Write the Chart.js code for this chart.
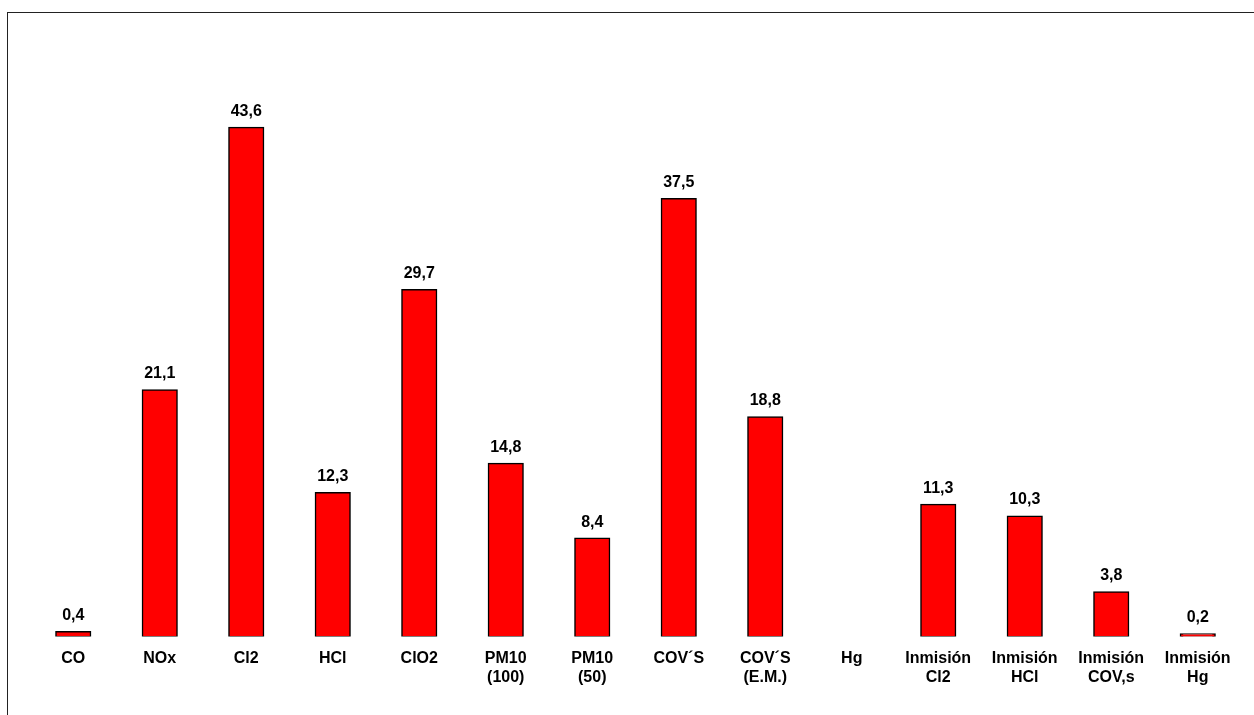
<!DOCTYPE html>
<html>
<head>
<meta charset="utf-8">
<script src="https://cdn.jsdelivr.net/npm/chart.js@4/dist/chart.umd.min.js"></script>
<style>
  html, body { margin: 0; padding: 0; background: #fff; }
  #wrap { position: relative; width: 1254px; height: 715px; }
</style>
</head>
<body>
<div id="wrap"><canvas id="emisiones"></canvas></div>
<script>
const categorias = [
  ["CO"], ["NOx"], ["Cl2"], ["HCl"], ["ClO2"], ["PM10", "(100)"], ["PM10", "(50)"],
  ["COV´S"], ["COV´S", "(E.M.)"], ["Hg"], ["Inmisión", "Cl2"], ["Inmisión", "HCl"],
  ["Inmisión", "COV,s"], ["Inmisión", "Hg"]
];
const valores = [0.4, 21.1, 43.6, 12.3, 29.7, 14.8, 8.4, 37.5, 18.8, null, 11.3, 10.3, 3.8, 0.2];
const ejeMax = 50;

const fuente = "'Liberation Sans', Arial, sans-serif";

// marco fino alrededor del grafico
const marco = {
  id: "marco",
  beforeDraw(chart) {
    const c = chart.ctx;
    c.save();
    c.strokeStyle = "#222";
    c.lineWidth = 1;
    c.strokeRect(7.5, 12.5, 1400, 900);
    c.restore();
  }
};

// valores encima de cada barra, con coma decimal
const etiquetas = {
  id: "etiquetas",
  afterDatasetsDraw(chart) {
    const c = chart.ctx;
    const meta = chart.getDatasetMeta(0);
    c.save();
    c.font = "bold 16px " + fuente;
    c.fillStyle = "#000";
    c.textAlign = "center";
    c.textBaseline = "alphabetic";
    meta.data.forEach((bar, i) => {
      const v = valores[i];
      if (v == null) return;
      c.fillText(v.toFixed(1).replace(".", ","), bar.x, bar.y - 12);
    });
    c.restore();
  }
};

new Chart(document.getElementById("emisiones"), {
  type: "bar",
  data: {
    labels: categorias,
    datasets: [{
      data: valores,
      backgroundColor: "#ff0000",
      borderColor: "#000",
      borderWidth: 1.5,
      inflateAmount: 1,
      borderSkipped: false,
      barPercentage: 0.395,
      categoryPercentage: 1
    }]
  },
  options: {
    responsive: true,
    maintainAspectRatio: false,
    animation: false,
    layout: { padding: { left: 30, right: 13, top: 53, bottom: 16 } },
    plugins: { legend: { display: false }, tooltip: { enabled: false } },
    scales: {
      x: {
        grid: { display: false, drawTicks: false },
        border: { display: false },
        ticks: {
          color: "#000",
          padding: 12,
          maxRotation: 0,
          autoSkip: false,
          font: { family: fuente, size: 16, weight: "bold", lineHeight: 1.2 }
        }
      },
      y: { display: false, min: 0, max: ejeMax }
    }
  },
  plugins: [marco, etiquetas]
});
</script>
</body>
</html>
